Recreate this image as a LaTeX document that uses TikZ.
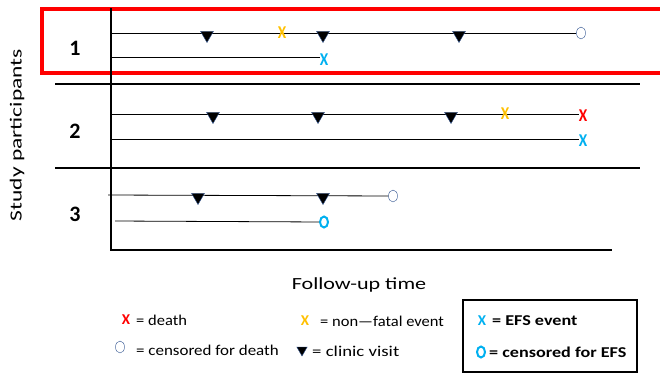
\documentclass[tikz,border=0pt]{standalone}
\usepackage{fontspec}
\usepackage{graphicx}
\setmainfont{Carlito}
\usetikzlibrary{shapes.geometric}
\definecolor{deathred}{RGB}{255,0,0}
\definecolor{nfyellow}{RGB}{255,192,0}
\definecolor{efsblue}{RGB}{0,176,240}
\definecolor{cendark}{RGB}{47,82,143}
\newcommand{\widetext}[2][1.15]{\scalebox{#1}[1]{#2}}
\tikzset{
  xmark/.style={inner sep=0pt, font=\fontsize{15}{15}\selectfont\bfseries},
  bigx/.style={xmark, font=\fontsize{18}{18}\selectfont\bfseries, xscale=0.85},
  visit/.style={regular polygon, regular polygon sides=3, shape border rotate=180,
    fill=black, draw=cendark, thin, inner sep=0pt, minimum size=15pt},
  cens/.style={ellipse, draw=cendark, thin, inner sep=0pt, minimum width=9pt, minimum height=12pt},
  efscens/.style={ellipse, draw=efsblue, line width=2pt, inner sep=0pt, minimum width=8pt, minimum height=11pt},
  sep/.style={line width=2pt},
  track/.style={line width=0.8pt},
  grp/.style={font=\fontsize{22}{22}\selectfont\bfseries},
  legtext/.style={anchor=west, inner sep=0pt, font=\fontsize{15}{15}\selectfont}
}
\begin{document}
\begin{tikzpicture}[x=1pt,y=-1pt]
  \useasboundingbox (0,0) rectangle (660,376);
  % highlighted participant
  \draw[deathred, line width=4pt] (42,9) rectangle (664,73);
  % axes and separators
  \coordinate (top) at (111,8);
  \coordinate (origin) at (111,250);
  \coordinate (tend) at (612,250);
  \draw[sep] (top) -- (origin) -- (tend);
  \draw[sep] (55,84) -- (640,84);
  \draw[sep] (55,168) -- (640,168);
  \node[rotate=90, font=\fontsize{17}{17}\selectfont] (ylab) at (17,135) {\widetext[1.38]{Study participants}};
  \node[font=\fontsize{17}{17}\selectfont] (xlab) at (359,285) {\widetext[1.3]{Follow-up time}};
  \node[grp] (g1) at (75,48) {1};
  \node[grp] (g2) at (75,131) {2};
  \node[grp] (g3) at (75,214) {3};

  % participant 1
  \coordinate (s11) at (111,33);
  \coordinate (s12) at (111,57);
  \node[cens] (e11) at (581,33) {};
  \node[bigx, efsblue] (e12) at (324,60) {X};
  \draw[track] (s11) -- (e11);
  \draw[track] (s12) -- (s12 -| e12.west);
  \node[visit] (v11) at (207,35) {};
  \node[bigx, nfyellow] (n11) at (282,33) {X};
  \node[visit] (v12) at (323,35) {};
  \node[visit] (v13) at (459,35) {};

  % participant 2
  \coordinate (s21) at (111,114);
  \coordinate (s22) at (111,139);
  \node[bigx, deathred] (e21) at (583,116) {X};
  \node[bigx, efsblue] (e22) at (583,141) {X};
  \draw[track] (s21) -- (s21 -| e21.west);
  \draw[track] (s22) -- (s22 -| e22.west);
  \node[visit] (v21) at (213,116) {};
  \node[visit] (v22) at (318,116) {};
  \node[visit] (v23) at (451,116) {};
  \node[bigx, nfyellow] (n21) at (505,114) {X};

  % participant 3
  \coordinate (s31) at (108,195);
  \coordinate (s32) at (115,221);
  \node[cens] (e31) at (393,196) {};
  \node[efscens] (e32) at (324,222) {};
  \draw[track] (s31) -- (e31);
  \draw[track] (s32) -- (e32);
  \node[visit] (v31) at (198,197) {};
  \node[visit] (v32) at (323,197) {};

  % legend
  \node[xmark, deathred] (kd) at (126,320) {X};
  \node[legtext] (kdt) at (136,320) {\widetext[1.1]{= death}};
  \node[cens] (kc) at (120,347) {};
  \node[legtext] (kct) at (136,350) {\widetext[1.13]{= censored for death}};
  \node[xmark, nfyellow] (kn) at (305,321) {X};
  \node[legtext] (knt) at (320,321) {\widetext[1.1]{= non---fatal event}};
  \node[visit, minimum size=12pt] (kv) at (302,350) {};
  \node[legtext] (kvt) at (312,351) {\widetext[1.25]{= clinic visit}};
  \draw[line width=1.2pt] (463,300) rectangle (637,372);
  \node[xmark, efsblue] (ke) at (482,321) {X};
  \node[legtext, font=\fontsize{15}{15}\selectfont\bfseries] (ket) at (492,321) {\widetext[1.21]{= EFS event}};
  \node[efscens] (kec) at (481,352) {};
  \node[legtext, font=\fontsize{15}{15}\selectfont\bfseries] (kect) at (489,352) {\widetext[1.21]{= censored for EFS}};
\end{tikzpicture}
\end{document}
